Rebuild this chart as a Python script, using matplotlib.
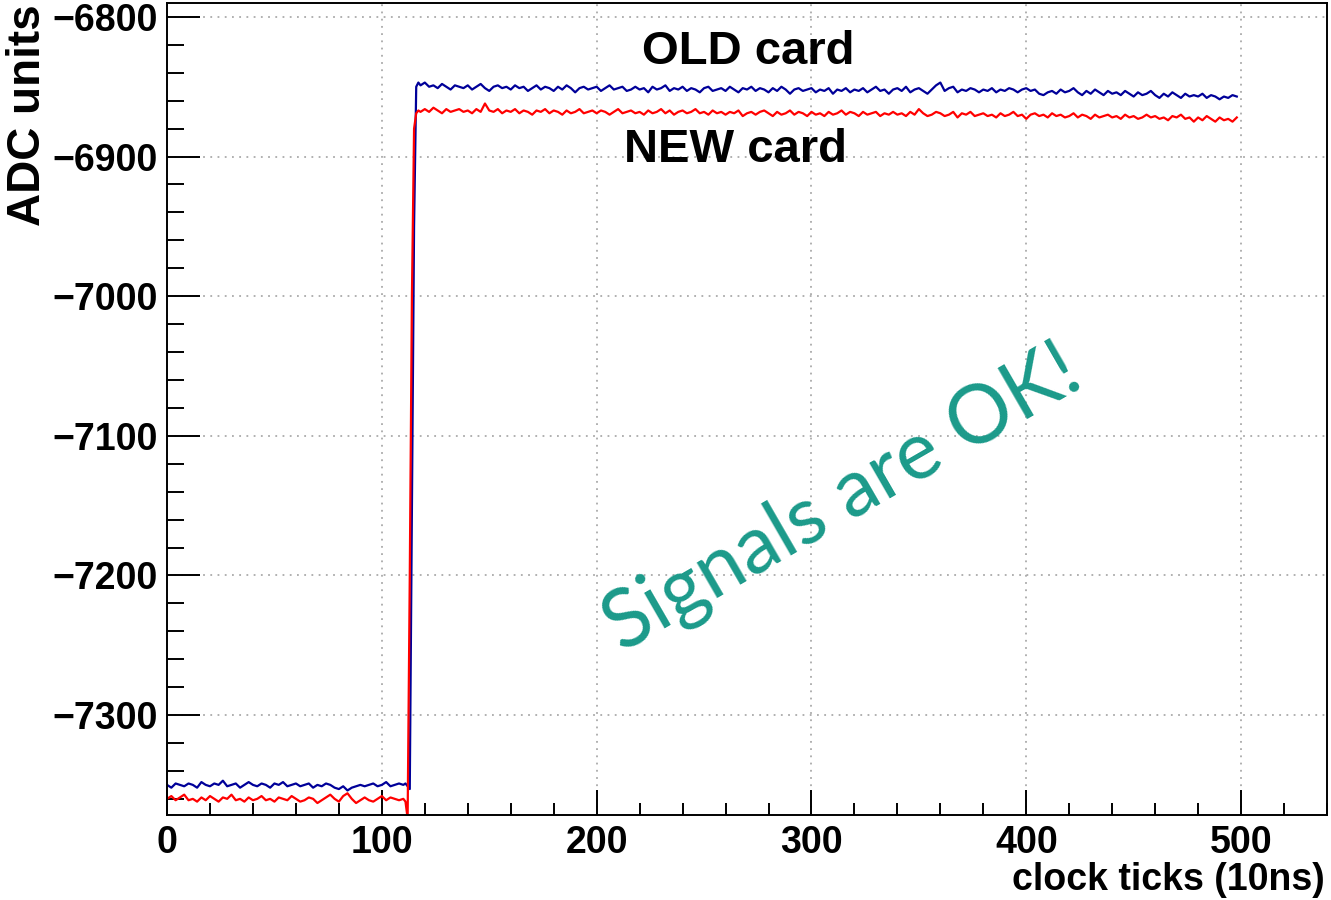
import numpy as np
import matplotlib
matplotlib.use("Agg")
import matplotlib.pyplot as plt
from matplotlib.ticker import MultipleLocator

plt.rcParams['font.family'] = ['Liberation Sans', 'DejaVu Sans']
plt.rcParams['font.weight'] = 'bold'

# sampling grid (clock ticks), finer around the step
ticks = list(range(0, 110, 2)) + list(range(110, 119)) + list(range(120, 500, 2))

old_pre = [-7350, -7352, -7349, -7350, -7351, -7349, -7350, -7352, -7348, -7350,
           -7351, -7349, -7350, -7347, -7351, -7350, -7349, -7352, -7350, -7348,
           -7350, -7351, -7349, -7350, -7352, -7349, -7350, -7348, -7351, -7350,
           -7349, -7351, -7350, -7349, -7352, -7350, -7351, -7349, -7350, -7352,
           -7353, -7351, -7354, -7352, -7351, -7350, -7351, -7350, -7349, -7351,
           -7350, -7348, -7351, -7350, -7349]
old_step = [-7350, -7349, -7351, -7353, -7150, -6950, -6850, -6847, -6849]
old_post = [-6847, -6850, -6849, -6851, -6848, -6850, -6852, -6849, -6850, -6851,
            -6849, -6852, -6850, -6848, -6851, -6853, -6850, -6849, -6851, -6850,
            -6852, -6849, -6851, -6850, -6853, -6851, -6849, -6852, -6850, -6851,
            -6853, -6850, -6852, -6849, -6851, -6854, -6851, -6850, -6852, -6851,
            -6850, -6853, -6851, -6849, -6852, -6851, -6850, -6853, -6852, -6850,
            -6852, -6851, -6854, -6850, -6852, -6851, -6849, -6853, -6851, -6852,
            -6850, -6853, -6851, -6852, -6854, -6851, -6850, -6853, -6852, -6851,
            -6853, -6850, -6852, -6854, -6851, -6852, -6850, -6853, -6851, -6852,
            -6854, -6851, -6853, -6850, -6852, -6855, -6852, -6851, -6853, -6852,
            -6851, -6854, -6852, -6853, -6851, -6855, -6852, -6853, -6851, -6854,
            -6852, -6853, -6851, -6854, -6852, -6850, -6853, -6852, -6855, -6852,
            -6851, -6853, -6850, -6854, -6852, -6851, -6853, -6855, -6852, -6849,
            -6847, -6853, -6851, -6850, -6854, -6852, -6853, -6851, -6852, -6854,
            -6852, -6853, -6851, -6854, -6852, -6853, -6851, -6852, -6854, -6852,
            -6851, -6853, -6852, -6855, -6856, -6854, -6853, -6855, -6852, -6854,
            -6853, -6851, -6854, -6856, -6853, -6855, -6852, -6854, -6856, -6853,
            -6855, -6854, -6856, -6853, -6855, -6857, -6854, -6856, -6855, -6853,
            -6856, -6858, -6855, -6857, -6854, -6856, -6858, -6855, -6857, -6856,
            -6857, -6855, -6858, -6856, -6857, -6859, -6857, -6858, -6856, -6857]

new_pre = [-7360, -7358, -7361, -7359, -7357, -7361, -7360, -7362, -7359, -7361,
           -7358, -7360, -7362, -7359, -7360, -7357, -7361, -7360, -7362, -7359,
           -7361, -7360, -7358, -7361, -7360, -7362, -7359, -7360, -7361, -7358,
           -7360, -7362, -7361, -7359, -7360, -7363, -7361, -7359, -7357, -7360,
           -7362, -7358, -7356, -7360, -7363, -7361, -7359, -7361, -7362, -7360,
           -7358, -7361, -7359, -7360, -7361]
new_step = [-7360, -7362, -7374, -7200, -7000, -6880, -6869, -6867, -6868]
new_post = [-6866, -6868, -6865, -6867, -6869, -6866, -6868, -6867, -6866, -6868,
            -6867, -6869, -6866, -6868, -6862, -6867, -6868, -6866, -6869, -6867,
            -6868, -6866, -6869, -6867, -6868, -6870, -6867, -6868, -6866, -6869,
            -6867, -6868, -6870, -6867, -6869, -6868, -6866, -6869, -6868, -6867,
            -6869, -6867, -6868, -6870, -6868, -6866, -6869, -6868, -6867, -6869,
            -6868, -6870, -6867, -6869, -6868, -6866, -6869, -6867, -6870, -6868,
            -6867, -6869, -6868, -6866, -6869, -6868, -6870, -6867, -6869, -6868,
            -6870, -6868, -6869, -6867, -6871, -6869, -6868, -6870, -6868, -6867,
            -6869, -6871, -6868, -6870, -6869, -6867, -6870, -6868, -6869, -6871,
            -6868, -6870, -6869, -6871, -6868, -6870, -6869, -6867, -6870, -6868,
            -6869, -6871, -6868, -6870, -6869, -6868, -6871, -6869, -6870, -6868,
            -6870, -6869, -6871, -6868, -6870, -6866, -6869, -6871, -6870, -6868,
            -6869, -6871, -6870, -6868, -6872, -6869, -6870, -6868, -6871, -6870,
            -6869, -6871, -6870, -6872, -6869, -6871, -6870, -6868, -6871, -6870,
            -6873, -6870, -6869, -6871, -6870, -6872, -6869, -6871, -6870, -6872,
            -6871, -6869, -6872, -6870, -6871, -6873, -6870, -6872, -6871, -6870,
            -6872, -6871, -6873, -6870, -6872, -6871, -6873, -6872, -6870, -6872,
            -6871, -6873, -6872, -6874, -6871, -6872, -6870, -6873, -6872, -6875,
            -6872, -6874, -6871, -6873, -6875, -6872, -6874, -6873, -6875, -6872]

old_card = old_pre + old_step + old_post
new_card = new_pre + new_step + new_post

fig = plt.figure(figsize=(13.31, 9), dpi=100)
ax = fig.add_axes([0.1255, 0.0944, 0.8715, 0.9023])

ax.plot(ticks, old_card, color='#000099', lw=1.6)
ax.plot(ticks, new_card, color='#ff0000', lw=1.6)

ax.set_xlim(0, 540)
ax.set_ylim(-7371.6, -6790)

ax.xaxis.set_major_locator(MultipleLocator(100))
ax.xaxis.set_minor_locator(MultipleLocator(20))
ax.yaxis.set_major_locator(MultipleLocator(100))
ax.yaxis.set_minor_locator(MultipleLocator(20))
ax.tick_params(axis='x', which='major', direction='in', length=18, width=1.4,
               labelsize=27, pad=7)
ax.tick_params(axis='x', which='minor', direction='in', length=9, width=1.4)
ax.tick_params(axis='y', which='major', direction='in', length=24, width=1.4,
               labelsize=27, pad=7)
ax.tick_params(axis='y', which='minor', direction='in', length=12, width=1.4)
for lab in ax.get_xticklabels() + ax.get_yticklabels():
    lab.set_fontweight('bold')
for sp in ax.spines.values():
    sp.set_linewidth(1.4)

ax.grid(True, which='major', color='#aaaaaa', linestyle=(0, (1, 3)), lw=1.3)
ax.set_axisbelow(True)

fig.text(28 / 1331, 1 - 4 / 900, 'ADC units', rotation=90, ha='center', va='top',
         fontsize=33, fontweight='bold')
fig.text(1325 / 1331, 1 - 880 / 900, 'clock ticks (10ns)', ha='right', va='center',
         fontsize=27, fontweight='bold')

fig.text(748 / 1331, 1 - 52 / 900, 'OLD card', ha='center', va='center',
         fontsize=34, fontweight='bold')
fig.text(736 / 1331, 1 - 150 / 900, 'NEW card', ha='center', va='center',
         fontsize=34, fontweight='bold')

fig.text(843 / 1331, 1 - 500 / 900, 'Signals are OK!', rotation=30,
         rotation_mode='anchor', ha='center', va='center', fontsize=58,
         color='#1b9a8a', family=['Lato', 'DejaVu Sans'], fontweight='normal')

fig.savefig('out.png', dpi=100)
